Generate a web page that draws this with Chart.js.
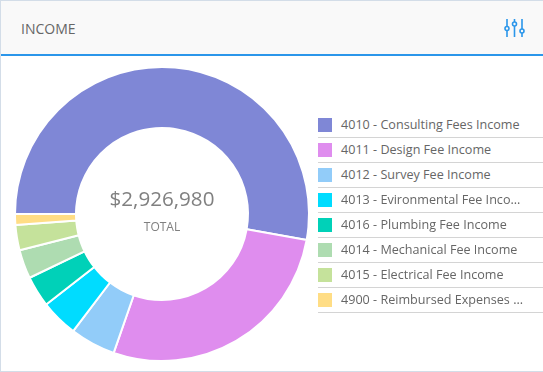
<!DOCTYPE html>
<html><head><meta charset="utf-8">
<script src="https://cdn.jsdelivr.net/npm/chart.js@4"></script>
<style>
html,body{margin:0;padding:0;background:#fff;overflow:hidden}
#card{position:absolute;left:0;top:0;width:543px;height:372px;box-sizing:border-box;border:1px solid #d3dde8;border-right:none;font-family:"Open Sans",sans-serif;color:#666}
#head{position:absolute;left:0;top:0;right:0;height:53px;background:#f9f9f9;border-bottom:2px solid #2b96ea}
#title{position:absolute;left:20px;top:18px;font-size:14px;line-height:20px;color:#666}
#icon{position:absolute;left:502px;top:16px}
#wrap{position:absolute;left:5px;top:57px;width:312px;height:312px}
#big{position:absolute;left:61px;top:183px;width:200px;text-align:center;font-size:20.6px;line-height:28px;color:#808080}
#small{position:absolute;left:61px;top:218px;width:200px;text-align:center;font-size:12px;line-height:16px;color:#808080}
#legend{position:absolute;left:317px;top:112px;width:225px}
.row{height:24px;border-bottom:1px solid #d4d4d4;position:relative}
.sw{position:absolute;left:0;top:5px;width:14px;height:14px}
.tx{position:absolute;left:23px;top:2px;font-size:12.6px;line-height:20px;white-space:nowrap;color:#666}
</style></head><body>
<div id="card">
 <div id="head"><div id="title">INCOME</div>
 <svg id="icon" width="22" height="22" viewBox="0 0 22 22" fill="none" stroke="#2b96ea" stroke-width="1.6">
  <path d="M4 2v7M4 14v6M11.500 2v3M11.500 9v11M19 2v10M19 16v4"/>
  <circle cx="4" cy="11.500" r="2"/><circle cx="11.500" cy="7" r="2"/><circle cx="19" cy="14" r="2"/>
 </svg></div>
 <div id="wrap"><canvas id="c" width="312" height="312"></canvas></div>
 <div id="big"></div><div id="small"></div>
 <div id="legend"></div>
</div>
<script>
const categories=["4010 - Consulting Fees Income","4011 - Design Fee Income","4012 - Survey Fee Income","4013 - Evironmental Fee Inco...","4016 - Plumbing Fee Income","4014 - Mechanical Fee Income","4015 - Electrical Fee Income","4900 - Reimbursed Expenses ..."];
const values=[1546400,804900,146350,120300,100000,92700,81300,35030];
const colors=["#7f87d6","#df8dee","#92ccf9","#00dcff","#00d1b8","#aedcb1","#c5e29b","#ffdd85"];
const totalLabel="$2,926,980";
const totalCaption="TOTAL";
document.getElementById('big').textContent=totalLabel;
document.getElementById('small').textContent=totalCaption;
const lg=document.getElementById('legend');
categories.forEach((c,i)=>{const r=document.createElement('div');r.className='row';
 r.innerHTML='<span class="sw" style="background:'+colors[i]+'"></span><span class="tx"></span>';
 r.querySelector('.tx').textContent=c;lg.appendChild(r);});
new Chart(document.getElementById('c'),{type:'doughnut',
 data:{labels:categories,datasets:[{data:values,backgroundColor:colors,borderColor:'#ffffff',borderWidth:2}]},
 options:{responsive:false,animation:false,rotation:-90,cutout:'58.5%',layout:{padding:8},
  plugins:{legend:{display:false},tooltip:{enabled:false}}}});
</script>
</body></html>
